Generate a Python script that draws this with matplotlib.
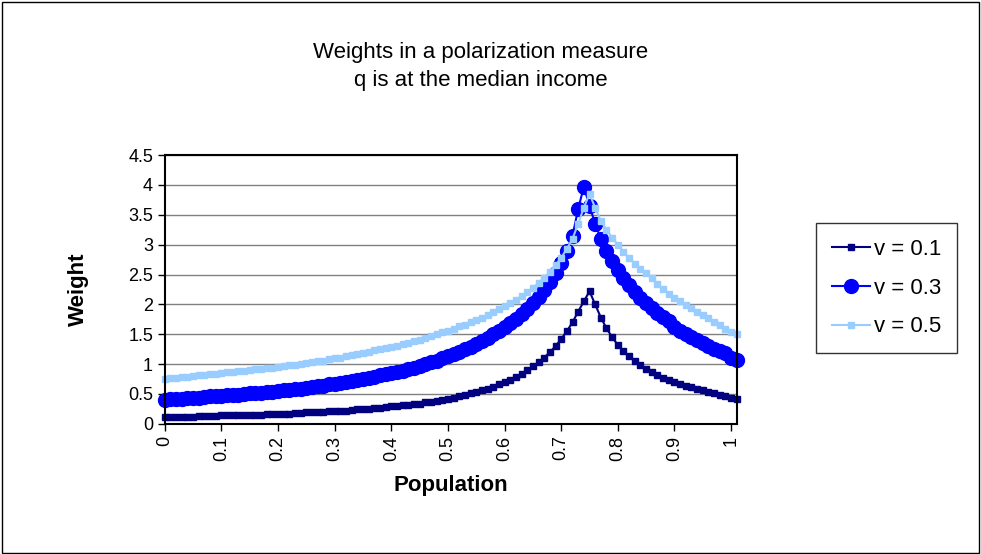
import matplotlib.pyplot as plt
import numpy as np
from matplotlib.patches import Rectangle

x = [i / 100 for i in range(102)]

w01 = [.12, .12, .12, .12, .12, .12, .13, .13, .13, .13,
       .14, .14, .14, .14, .15, .15, .15, .15, .16, .16,
       .17, .17, .17, .18, .18, .19, .19, .20, .20, .21,
       .21, .22, .22, .23, .24, .24, .25, .26, .27, .28,
       .29, .30, .31, .32, .33, .34, .36, .37, .39, .40,
       .42, .44, .46, .48, .51, .53, .56, .59, .62, .66,
       .70, .74, .79, .84, .90, .96, 1.03, 1.11, 1.20, 1.30,
       1.42, 1.55, 1.70, 1.88, 2.05, 2.22, 2.0, 1.78, 1.6, 1.45,
       1.32, 1.22, 1.13, 1.05, .98, .92, .87, .82, .77, .73,
       .70, .67, .63, .61, .58, .56, .53, .51, .49, .47,
       .43, .41]

w03 = [.40, .41, .42, .42, .43, .44, .44, .45, .46, .46,
       .47, .48, .49, .49, .50, .51, .52, .52, .53, .54,
       .55, .56, .57, .58, .59, .60, .62, .63, .64, .66,
       .67, .69, .70, .72, .73, .75, .77, .79, .81, .83,
       .85, .87, .89, .92, .94, .97, 1.00, 1.03, 1.06, 1.10,
       1.13, 1.17, 1.21, 1.25, 1.29, 1.34, 1.39, 1.44, 1.50, 1.56,
       1.62, 1.69, 1.76, 1.84, 1.93, 2.02, 2.12, 2.24, 2.37, 2.52,
       2.70, 2.90, 3.15, 3.60, 3.97, 3.65, 3.35, 3.10, 2.90, 2.72,
       2.57, 2.44, 2.32, 2.21, 2.11, 2.02, 1.94, 1.86, 1.79, 1.72,
       1.62, 1.56, 1.50, 1.45, 1.40, 1.35, 1.30, 1.26, 1.22, 1.18,
       1.10, 1.07]

w05 = [.75, .76, .77, .78, .79, .80, .81, .82, .83, .84,
       .85, .86, .87, .88, .89, .90, .91, .92, .93, .94,
       .95, .96, .98, .99, 1.00, 1.02, 1.03, 1.05, 1.06, 1.08,
       1.10, 1.11, 1.13, 1.15, 1.17, 1.19, 1.21, 1.23, 1.25, 1.27,
       1.29, 1.31, 1.34, 1.36, 1.39, 1.41, 1.44, 1.47, 1.50, 1.53,
       1.56, 1.59, 1.63, 1.66, 1.70, 1.74, 1.78, 1.82, 1.87, 1.92,
       1.97, 2.02, 2.08, 2.14, 2.21, 2.28, 2.36, 2.45, 2.55, 2.66,
       2.78, 2.93, 3.10, 3.35, 3.62, 3.85, 3.62, 3.40, 3.25, 3.12,
       3.00, 2.88, 2.78, 2.68, 2.60, 2.52, 2.44, 2.34, 2.26, 2.18,
       2.10, 2.05, 1.99, 1.94, 1.88, 1.83, 1.78, 1.71, 1.65, 1.58,
       1.53, 1.50]

plt.rcParams['font.family'] = ['Liberation Sans', 'DejaVu Sans']

fig = plt.figure(figsize=(9.81, 5.54), dpi=100)
fig.patches.append(Rectangle((0.002, 0.002), 0.996, 0.994, transform=fig.transFigure,
                             fill=False, ec='black', lw=1))
ax = fig.add_axes([0.168, 0.235, 0.583, 0.485])

ax.plot(x, w01, color='#000080', lw=1.5, marker='s', ms=5, label='v = 0.1', clip_on=False)
ax.plot(x, w03, color='#0000ff', lw=1.5, marker='o', ms=10, label='v = 0.3', clip_on=False)
ax.plot(x, w05, color='#99ccff', lw=1.5, marker='s', ms=5, label='v = 0.5', clip_on=False)

ax.set_xlim(0, 1.01)
ax.set_ylim(0, 4.5)
ax.set_xticks([i / 10 for i in range(11)])
ax.set_xticklabels(['0', '0.1', '0.2', '0.3', '0.4', '0.5', '0.6', '0.7', '0.8', '0.9', '1'],
                   rotation=90, fontsize=13)
ax.set_yticks(np.arange(0, 4.51, 0.5))
ax.set_yticklabels(['0', '0.5', '1', '1.5', '2', '2.5', '3', '3.5', '4', '4.5'], fontsize=13)
ax.yaxis.grid(True, color='#808080', lw=1)
ax.set_axisbelow(True)
for s in ['top', 'right', 'left', 'bottom']:
    ax.spines[s].set_linewidth(1.5)
ax.tick_params(direction='out', length=5, width=1)

ax.set_xlabel('Population', fontsize=16, fontweight='bold', labelpad=10)
ax.set_ylabel('Weight', fontsize=16, fontweight='bold', labelpad=28)
fig.text(0.49, 0.905, 'Weights in a polarization measure', ha='center', va='center', fontsize=16)
fig.text(0.49, 0.855, 'q is at the median income', ha='center', va='center', fontsize=16)

leg = fig.legend(loc='center left', bbox_to_anchor=(0.832, 0.48), fontsize=16,
                 frameon=True, fancybox=False, edgecolor='black', handlelength=1.7,
                 handletextpad=0.2, labelspacing=0.8, borderpad=0.7, borderaxespad=0)
leg.get_frame().set_linewidth(1)

fig.savefig('out.png', dpi=100)
